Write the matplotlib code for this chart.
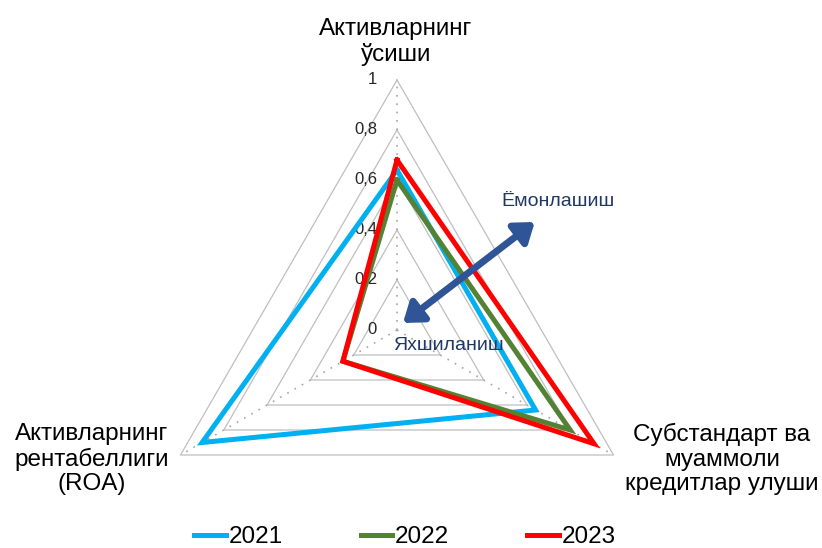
import numpy as np
import matplotlib
matplotlib.use("Agg")
import matplotlib.pyplot as plt
from matplotlib.transforms import offset_copy

plt.rcParams['font.family'] = ['Liberation Sans', 'DejaVu Sans']

# ---- data ----
axes_labels = ["Активларнинг\nўсиши",
               "Субстандарт ва\nмуаммоли\nкредитлар улуши",
               "Активларнинг\nрентабеллиги\n(ROA)"]
years = ["2021", "2022", "2023"]
v2021 = [0.64, 0.64, 0.90]
v2022 = [0.60, 0.80, 0.25]
v2023 = [0.68, 0.91, 0.25]
ticks = [0, 0.2, 0.4, 0.6, 0.8, 1.0]
tick_labels = ["0", "0,2", "0,4", "0,6", "0,8", "1"]
colors = ["#00B0F0", "#548235", "#FF0000"]

W, H = 822, 548
fig = plt.figure(figsize=(W / 100, H / 100), dpi=100)
cx, cy, R = 397, 330, 250
ax = fig.add_axes([(cx - R) / W, (H - cy - R) / H, 2 * R / W, 2 * R / H],
                  projection='polar')
ax.set_theta_offset(np.pi / 2)
ax.set_theta_direction(-1)
ax.set_ylim(0, 1)
ax.grid(False)
ax.set_xticks([])
ax.set_yticks([])
ax.spines['polar'].set_visible(False)
ax.patch.set_visible(False)

n = len(axes_labels)
ang = np.arange(n) * 2 * np.pi / n
ang_c = np.append(ang, ang[0])

# grid triangles
for t in ticks[1:]:
    ax.plot(ang_c, [t] * (n + 1), color="#BFBFBF", lw=0.9, zorder=1, clip_on=False)
# spokes
for a in ang:
    ax.plot([a, a], [0, 1], color="#A6A6A6", lw=1.2, ls=(0, (1, 4)), zorder=1, clip_on=False)

# series
for vals, c, lab in zip([v2021, v2022, v2023], colors, years):
    ax.plot(ang_c, vals + vals[:1], color=c, lw=3.6, label=lab, zorder=3,
            solid_joinstyle='miter', clip_on=False)

# tick labels
tr = offset_copy(ax.transData, fig=fig, x=-20, y=0, units='dots')
for t, tl in zip(ticks, tick_labels):
    ax.text(0, t, tl, transform=tr, ha='right', va='center', fontsize=12,
            color="#262626", zorder=2)

# axis labels
fs = 17.5
fig.text(396 / W, 1 - 42 / H, axes_labels[0], ha='center', va='center',
         fontsize=fs, linespacing=1.18)
fig.text(722 / W, 1 - 459 / H, axes_labels[1], ha='center', va='center',
         fontsize=fs, linespacing=1.13)
fig.text(92 / W, 1 - 459 / H, axes_labels[2], ha='center', va='center',
         fontsize=fs, linespacing=1.13)

# arrow
ax.annotate("", xy=(np.radians(51.9), 0.70), xytext=(np.radians(40.6), 0.037),
            xycoords='data', textcoords='data',
            arrowprops=dict(arrowstyle='<|-|>,head_length=0.55,head_width=0.4',
                            color="#2F5597", lw=5, mutation_scale=20,
                            shrinkA=0, shrinkB=0), zorder=5)
fig.text(558 / W, 1 - 202 / H, "Ёмонлашиш", ha='center', va='center',
         fontsize=14, color="#203864")
fig.text(448 / W, 1 - 345 / H, "Яхшиланиш", ha='center', va='center',
         fontsize=14, color="#203864")

# legend
fig.legend(loc='center', bbox_to_anchor=(405 / W, 1 - 537 / H), ncol=3,
           frameon=False, fontsize=17.5, handlelength=1.3, handletextpad=0.12,
           columnspacing=3.2)

fig.savefig("out.png", dpi=100)
